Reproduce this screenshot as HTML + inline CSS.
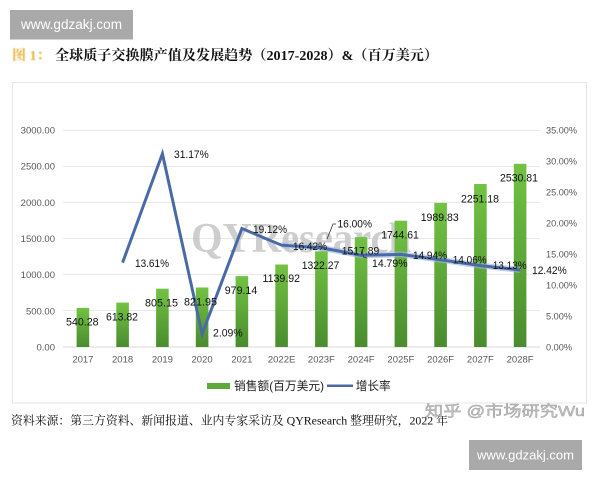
<!DOCTYPE html>
<html><head><meta charset="utf-8"><style>
html,body{margin:0;padding:0;background:#fff;width:600px;height:480px;overflow:hidden}
svg{display:block}
</style></head><body>
<svg width="600" height="480" viewBox="0 0 600 480" xmlns="http://www.w3.org/2000/svg">
<defs>
<linearGradient id="bg" x1="0" y1="0" x2="0" y2="1">
<stop offset="0" stop-color="#72c243"/><stop offset="1" stop-color="#4a8c2e"/>
</linearGradient>
<linearGradient id="bh" x1="0" y1="0" x2="1" y2="0">
<stop offset="0" stop-color="#ffffff" stop-opacity="0.12"/><stop offset="0.5" stop-color="#ffffff" stop-opacity="0"/><stop offset="1" stop-color="#000000" stop-opacity="0.08"/>
</linearGradient>
<filter id="blur1"><feGaussianBlur stdDeviation="0.6"/></filter>
</defs>
<rect width="600" height="480" fill="#fff"/>
<!-- top watermark -->
<rect x="10" y="10" width="123" height="29.5" fill="#a9a9a9"/>
<text x="71.5" y="29" font-family="Liberation Sans, sans-serif" font-size="13.5" fill="#fff" text-anchor="middle" textLength="101" lengthAdjust="spacingAndGlyphs">www.gdzakj.com</text>
<!-- title -->
<text x="12" y="60" font-family="Liberation Serif, Noto Serif CJK SC, serif" font-size="14" font-weight="bold" fill="#e8b23c" filter="url(#blur1)">图 1：</text>
<text x="55" y="60" font-family="Liberation Serif, Noto Serif CJK SC, serif" font-size="14" font-weight="bold" fill="#111" textLength="383" lengthAdjust="spacingAndGlyphs">全球质子交换膜产值及发展趋势（2017-2028）&amp;（百万美元）</text>
<!-- frame -->
<rect x="12.5" y="82.5" width="574" height="320.5" fill="#fff" stroke="#e6e6e6" stroke-width="1"/>
<!-- gridlines -->
<g stroke="#e8e8e8" stroke-width="1">
<line x1="63" x2="540" y1="130.5" y2="130.5"/>
<line x1="63" x2="540" y1="166.5" y2="166.5"/>
<line x1="63" x2="540" y1="202.5" y2="202.5"/>
<line x1="63" x2="540" y1="238.5" y2="238.5"/>
<line x1="63" x2="540" y1="274.5" y2="274.5"/>
<line x1="63" x2="540" y1="310.5" y2="310.5"/>
</g>
<line x1="63" x2="540" y1="347" y2="347" stroke="#d9d9d9" stroke-width="1"/>
<!-- left axis labels -->
<g font-family="Liberation Sans, sans-serif" font-size="9.5" fill="#595959" text-anchor="end">
<text x="55" y="133.5">3000.00</text>
<text x="55" y="169.7">2500.00</text>
<text x="55" y="205.8">2000.00</text>
<text x="55" y="242">1500.00</text>
<text x="55" y="278.2">1000.00</text>
<text x="55" y="314.3">500.00</text>
<text x="55" y="350.5">0.00</text>
</g>
<!-- right axis labels -->
<g font-family="Liberation Sans, sans-serif" font-size="9.5" fill="#595959">
<text x="546" y="133.5" textLength="31" lengthAdjust="spacingAndGlyphs">35.00%</text>
<text x="546" y="164.5" textLength="31" lengthAdjust="spacingAndGlyphs">30.00%</text>
<text x="546" y="195.5" textLength="31" lengthAdjust="spacingAndGlyphs">25.00%</text>
<text x="546" y="226.5" textLength="31" lengthAdjust="spacingAndGlyphs">20.00%</text>
<text x="546" y="257.5" textLength="31" lengthAdjust="spacingAndGlyphs">15.00%</text>
<text x="546" y="288.5" textLength="31" lengthAdjust="spacingAndGlyphs">10.00%</text>
<text x="546" y="319.5" textLength="26" lengthAdjust="spacingAndGlyphs">5.00%</text>
<text x="546" y="350.5" textLength="26" lengthAdjust="spacingAndGlyphs">0.00%</text>
</g>
<!-- x labels -->
<g font-family="Liberation Sans, sans-serif" font-size="9.5" fill="#595959" text-anchor="middle">
<text x="82.9" y="362.5">2017</text>
<text x="122.6" y="362.5">2018</text>
<text x="162.4" y="362.5">2019</text>
<text x="202.1" y="362.5">2020</text>
<text x="241.9" y="362.5">2021</text>
<text x="281.6" y="362.5">2022E</text>
<text x="321.4" y="362.5">2023F</text>
<text x="361.1" y="362.5">2024F</text>
<text x="400.9" y="362.5">2025F</text>
<text x="440.6" y="362.5">2026F</text>
<text x="480.4" y="362.5">2027F</text>
<text x="520.1" y="362.5">2028F</text>
</g>
<!-- QYResearch watermark -->
<text x="191" y="252" font-family="Liberation Serif, serif" font-size="42" font-weight="bold" fill="#bdbdbd" fill-opacity="0.75" textLength="220" lengthAdjust="spacingAndGlyphs">QYResearch</text>
<!-- bars -->
<g>
<rect x="76.6" y="307.9" width="12.6" height="39.1" fill="url(#bg)"/>
<rect x="116.3" y="302.6" width="12.6" height="44.4" fill="url(#bg)"/>
<rect x="156.1" y="288.7" width="12.6" height="58.3" fill="url(#bg)"/>
<rect x="195.8" y="287.5" width="12.6" height="59.5" fill="url(#bg)"/>
<rect x="235.6" y="276.1" width="12.6" height="70.9" fill="url(#bg)"/>
<rect x="275.3" y="264.5" width="12.6" height="82.5" fill="url(#bg)"/>
<rect x="315.1" y="251.3" width="12.6" height="95.7" fill="url(#bg)"/>
<rect x="354.8" y="237.1" width="12.6" height="109.9" fill="url(#bg)"/>
<rect x="394.6" y="220.7" width="12.6" height="126.3" fill="url(#bg)"/>
<rect x="434.3" y="202.9" width="12.6" height="144.1" fill="url(#bg)"/>
<rect x="474.1" y="184.0" width="12.6" height="163.0" fill="url(#bg)"/>
<rect x="513.8" y="163.8" width="12.6" height="183.2" fill="url(#bg)"/>
</g>
<!-- line halo -->
<polyline points="281.6,245.2 321.4,247.8 361.1,255.3 400.9,254.4 440.6,259.8 480.4,265.6 520.1,270" fill="none" stroke="#9fb6dc" stroke-opacity="0.6" stroke-width="6" stroke-linejoin="round"/>
<!-- line -->
<polyline points="122.6,262.6 162.4,153.7 202.1,334 241.9,228.5 281.6,245.2 321.4,247.8 361.1,255.3 400.9,254.4 440.6,259.8 480.4,265.6 520.1,270" fill="none" stroke="#4a6aa5" stroke-width="3" stroke-linejoin="miter"/>
<!-- leader lines -->
<polyline points="336,224 333,224 327,239" fill="none" stroke="#333" stroke-width="0.8"/>
<polyline points="362,250 363.5,257 367,258" fill="none" stroke="#333" stroke-width="0.8"/>
<!-- bar data labels -->
<g font-family="Liberation Sans, sans-serif" font-size="11" fill="#111" text-anchor="middle">
<text x="82.3" y="325.5" textLength="32.7" lengthAdjust="spacingAndGlyphs">540.28</text>
<text x="122" y="320.5" textLength="32" lengthAdjust="spacingAndGlyphs">613.82</text>
<text x="161.5" y="306.5" textLength="33" lengthAdjust="spacingAndGlyphs">805.15</text>
<text x="200.5" y="305.5" textLength="33" lengthAdjust="spacingAndGlyphs">821.95</text>
<text x="241" y="294.2" textLength="32.5" lengthAdjust="spacingAndGlyphs">979.14</text>
<text x="281.3" y="282.2" textLength="37.5" lengthAdjust="spacingAndGlyphs">1139.92</text>
<text x="320.5" y="269.2" textLength="37.5" lengthAdjust="spacingAndGlyphs">1322.27</text>
<text x="360.5" y="254.6" textLength="37.5" lengthAdjust="spacingAndGlyphs">1517.89</text>
<text x="400" y="238.6" textLength="37.5" lengthAdjust="spacingAndGlyphs">1744.61</text>
<text x="439.7" y="220.9" textLength="38" lengthAdjust="spacingAndGlyphs">1989.83</text>
<text x="480" y="202.6" textLength="38" lengthAdjust="spacingAndGlyphs">2251.18</text>
<text x="519" y="181.6" textLength="38" lengthAdjust="spacingAndGlyphs">2530.81</text>
</g>
<!-- percent labels -->
<g font-family="Liberation Sans, sans-serif" font-size="11" fill="#111">
<text x="135" y="267.2" textLength="34" lengthAdjust="spacingAndGlyphs">13.61%</text>
<text x="174" y="158.2" textLength="34.7" lengthAdjust="spacingAndGlyphs">31.17%</text>
<text x="213" y="336.6" textLength="29.7" lengthAdjust="spacingAndGlyphs">2.09%</text>
<text x="253" y="232.9" textLength="34" lengthAdjust="spacingAndGlyphs">19.12%</text>
<text x="293" y="249.9" textLength="34" lengthAdjust="spacingAndGlyphs">16.42%</text>
<text x="337.5" y="227.4" textLength="34.5" lengthAdjust="spacingAndGlyphs">16.00%</text>
<text x="372" y="266.9" textLength="35.5" lengthAdjust="spacingAndGlyphs">14.79%</text>
<text x="413" y="259.2" textLength="34" lengthAdjust="spacingAndGlyphs">14.94%</text>
<text x="452.7" y="263.6" textLength="34" lengthAdjust="spacingAndGlyphs">14.06%</text>
<text x="492.7" y="269.2" textLength="34" lengthAdjust="spacingAndGlyphs">13.13%</text>
<text x="532" y="274.2" textLength="34.7" lengthAdjust="spacingAndGlyphs">12.42%</text>
</g>
<!-- legend -->
<rect x="207" y="383" width="23" height="6" fill="#5fa83a"/>
<text x="234" y="390" font-family="Liberation Sans, Noto Sans CJK SC, sans-serif" font-size="12" fill="#222" textLength="90" lengthAdjust="spacingAndGlyphs">销售额(百万美元)</text>
<line x1="327" x2="353" y1="385.7" y2="385.7" stroke="#4a6aa5" stroke-width="2.5"/>
<text x="355.7" y="390" font-family="Liberation Sans, Noto Sans CJK SC, sans-serif" font-size="12" fill="#222" textLength="35" lengthAdjust="spacingAndGlyphs">增长率</text>
<!-- footer -->
<text x="11" y="424.5" font-family="Liberation Serif, Noto Serif CJK SC, serif" font-size="12" fill="#111" textLength="437" lengthAdjust="spacingAndGlyphs">资料来源：第三方资料、新闻报道、业内专家采访及 QYResearch 整理研究，2022 年</text>
<!-- zhihu watermark -->
<text x="425" y="416" font-family="Liberation Sans, Noto Sans CJK SC, sans-serif" font-size="15" fill="#c4c4c4" stroke="#9a9a9a" stroke-width="0.4" textLength="160" lengthAdjust="spacingAndGlyphs">知乎 @市场研究Wu</text>
<!-- bottom watermark -->
<rect x="469" y="440" width="113" height="30" fill="#a9a9a9"/>
<text x="525.5" y="459.5" font-family="Liberation Sans, sans-serif" font-size="13" fill="#fff" text-anchor="middle" textLength="97" lengthAdjust="spacingAndGlyphs">www.gdzakj.com</text>
</svg>
</body></html>
